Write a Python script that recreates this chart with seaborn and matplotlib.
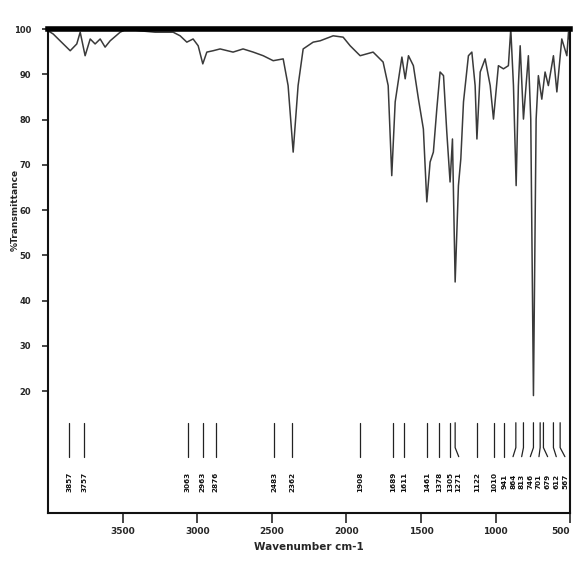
import numpy as np
import pandas as pd
import seaborn as sns
import matplotlib
matplotlib.use("Agg")
import matplotlib.pyplot as plt

# -----------------------------
# IR spectrum
# -----------------------------
wavenumber = [4000, 3966, 3920, 3852, 3808, 3785, 3752, 3718, 3685, 3651, 3618, 3584,
              3517, 3472, 3383, 3283, 3162, 3115, 3070, 3028, 2994, 2963, 2936, 2894,
              2847, 2760, 2693, 2625, 2558, 2491, 2424, 2391, 2357, 2324, 2290, 2223,
              2176, 2089, 2022, 1975, 1908, 1821, 1754, 1720, 1696, 1673, 1640, 1628,
              1606, 1584, 1551, 1517, 1484, 1461, 1439, 1417, 1394, 1372, 1349, 1327,
              1305, 1289, 1271, 1249, 1233, 1215, 1182, 1159, 1137, 1125, 1103, 1070,
              1036, 1014, 981, 947, 914, 898, 880, 862, 847, 835, 813, 780, 764, 746,
              728, 713, 690, 668, 646, 612, 589, 556, 522, 511, 500]
transmittance = [99.6, 98.9, 97.4, 95.2, 96.7, 99.3, 94.1, 97.8, 96.7, 97.8, 96.0, 97.4,
                 99.3, 100.0, 99.6, 99.3, 99.3, 98.5, 97.1, 97.8, 96.3, 92.3, 94.9, 95.2,
                 95.6, 94.9, 95.6, 94.9, 94.1, 93.0, 93.4, 87.5, 72.8, 87.5, 95.6, 97.1,
                 97.4, 98.5, 98.2, 96.3, 94.1, 94.9, 92.7, 87.5, 67.6, 83.9, 91.2, 93.8,
                 89.0, 94.1, 91.9, 84.5, 77.9, 61.8, 70.6, 72.8, 82.3, 90.5, 89.7, 77.2,
                 66.2, 75.7, 44.1, 65.4, 71.3, 83.9, 94.1, 94.9, 87.5, 75.7, 90.5, 93.4,
                 87.5, 80.1, 91.9, 91.2, 91.9, 100.0, 87.5, 65.4, 87.5, 96.3, 80.1, 94.1,
                 80.1, 19.0, 80.1, 89.7, 84.5, 90.5, 87.5, 94.1, 86.1, 97.8, 94.1, 99.3, 97.0]

# marked peaks
peaks = [3857, 3757, 3063, 2963, 2876, 2483, 2362, 1908, 1689, 1611, 1461, 1378,
         1305, 1271, 1122, 1010, 941, 864, 813, 746, 701, 679, 612, 567]

x_ticks = [3500, 3000, 2500, 2000, 1500, 1000, 500]
y_ticks = [100, 90, 80, 70, 60, 50, 40, 30, 20]

df = pd.DataFrame({"Wavenumber": wavenumber, "T": transmittance})

# -----------------------------
# Plot
# -----------------------------
sns.set_style("ticks")
fig = plt.figure(figsize=(5.73, 5.69), dpi=100)
ax = fig.add_axes([0.084, 0.098, 0.911, 0.851])

sns.lineplot(data=df, x="Wavenumber", y="T", color="#3a3a3a", linewidth=1.1, ax=ax)

ax.set_xlim(4000, 500)
ax.set_ylim(-7, 100)

# spread label positions so they don't overlap
gap = 58
pos = list(peaks)
for i in range(1, len(pos)):
    if pos[i - 1] - pos[i] < gap:
        pos[i] = pos[i - 1] - gap
if pos[-1] < 535:
    pos[-1] = 535
    for i in range(len(pos) - 2, -1, -1):
        if pos[i] - pos[i + 1] < gap:
            pos[i] = pos[i + 1] + gap

for p, lp in zip(peaks, pos):
    ax.plot([p, p, lp], [13, 7.5, 5.5], color="#222222", linewidth=0.9)
    ax.text(lp, 0, str(p), rotation=90, ha="center", va="center",
            fontsize=5.2, fontweight="heavy", color="#111111")

ax.set_xticks(x_ticks)
ax.set_xticklabels([str(t) for t in x_ticks], fontsize=6.5, fontweight="heavy")
ax.get_xticklabels()[-1].set_horizontalalignment("right")
ax.set_yticks(y_ticks)
ax.set_yticklabels([str(t) for t in y_ticks], fontsize=6, fontweight="heavy")
ax.tick_params(axis="x", length=7, width=1.2, pad=3)
ax.tick_params(axis="y", length=4, width=1.2, pad=8)

ax.set_xlabel("Wavenumber cm-1", fontsize=7.5, fontweight="heavy", labelpad=4)
ax.set_ylabel("%Transmittance", fontsize=6.5, fontweight="heavy")
ax.yaxis.set_label_coords(-0.055, (60 + 7) / 107)

for s in ["left", "bottom", "right"]:
    ax.spines[s].set_visible(True)
    ax.spines[s].set_linewidth(1.5)
    ax.spines[s].set_color("#111111")
ax.spines["top"].set_visible(True)
ax.spines["top"].set_linewidth(4)
ax.spines["top"].set_color("#000000")

plt.savefig("out.png", dpi=100)
